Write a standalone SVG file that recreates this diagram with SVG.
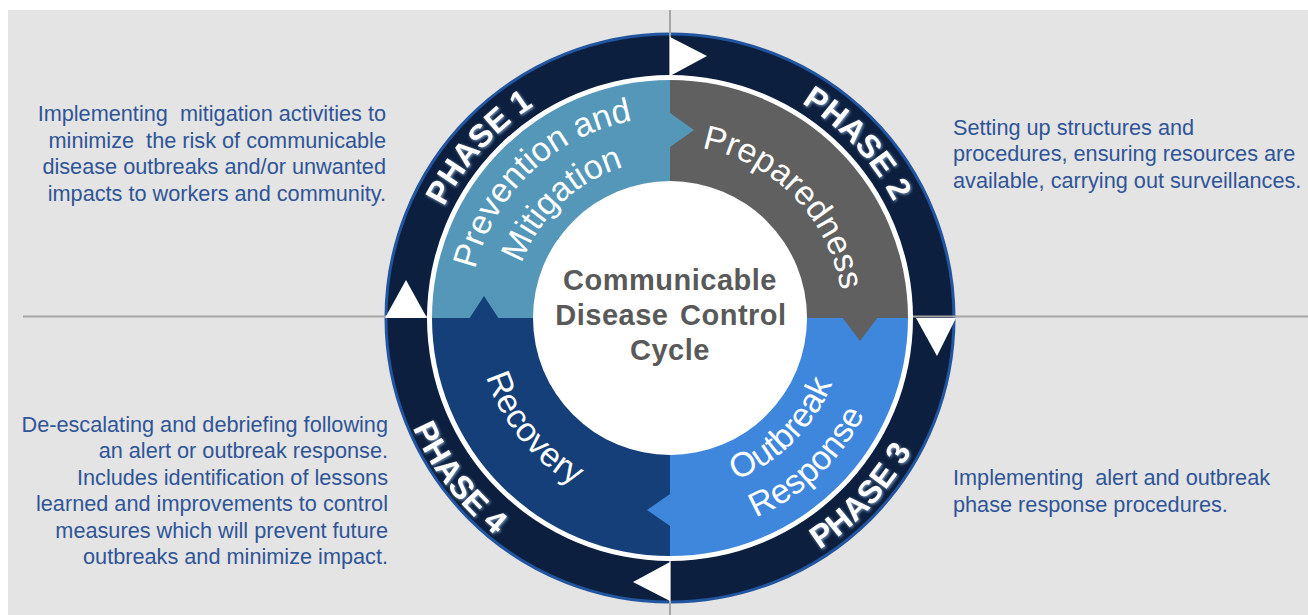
<svg xmlns="http://www.w3.org/2000/svg" xmlns:xlink="http://www.w3.org/1999/xlink" width="1308" height="615" viewBox="0 0 1308 615">
  <style>
    .desc { font-family: "Liberation Sans", Arial, sans-serif; font-size: 21.7px; fill: #2f5597; white-space: pre; }
    .phase { font-family: "Liberation Sans", Arial, sans-serif; font-size: 32px; font-weight: bold; fill: #ffffff; }
    .label { font-family: "Liberation Sans", Arial, sans-serif; font-size: 34px; fill: #ffffff; }
    .title { font-family: "Liberation Sans", Arial, sans-serif; font-size: 29px; font-weight: bold; fill: #595959; text-anchor: middle; white-space: pre; }
    .guide { stroke: #a6a6a6; stroke-width: 2; fill: none; }
  </style>
  <defs>
    <filter id="glow" x="-20%" y="-20%" width="140%" height="140%">
      <feGaussianBlur in="SourceAlpha" stdDeviation="1.6" result="b"/>
      <feOffset in="b" dx="1" dy="1" result="o"/>
      <feFlood flood-color="#8fb0d8" flood-opacity="0.9"/>
      <feComposite in2="o" operator="in" result="s"/>
      <feMerge><feMergeNode in="s"/><feMergeNode in="SourceGraphic"/></feMerge>
    </filter>
    <!-- baselines for the curved ring text -->
    <path id="arcP1" d="M431.0,397.8 A252,252 0 0 1 722.4,71.5"/>
    <path id="arcP2" d="M613.3,72.5 A252,252 0 0 1 911.0,391.7"/>
    <path id="arcP3" d="M608.0,586.5 A276,276 0 0 0 934.1,237.3"/>
    <path id="arcP4" d="M411.6,211.6 A276,276 0 0 0 703.6,591.9"/>
    <path id="arcPrev" d="M475.4,364.3 A199,199 0 0 1 727.1,126.3"/>
    <path id="arcMit" d="M516.4,354.9 A158,158 0 0 1 714.9,166.5"/>
    <path id="arcPrep" d="M627.3,150.4 A173,173 0 0 1 836.5,364.8"/>
    <path id="arcOut" d="M625.0,487.1 A175,175 0 0 0 839.0,272.4"/>
    <path id="arcResp" d="M608.4,526.1 A217,217 0 0 0 881.0,267.4"/>
    <path id="arcRec" d="M489.8,248.8 A193,193 0 0 0 700.2,508.6"/>
  </defs>

  <!-- panel background -->
  <rect x="8" y="10" width="1300" height="605" fill="#e4e4e4"/>

  <!-- outer dark ring -->
  <g id="ring">
    <circle cx="670" cy="318" r="284" fill="#0c1f3e" stroke="#2155a0" stroke-width="3"/>
  </g>

  <!-- quadrant guide lines -->
  <g id="guides">
    <line class="guide" x1="23" y1="316.5" x2="1308" y2="316.5"/>
    <line class="guide" x1="670" y1="10" x2="670" y2="615"/>
  </g>

  <!-- cycle direction arrows on the ring -->
  <g id="connectors" fill="#ffffff">
    <polygon points="670,37 670,76 707,56"/>
    <polygon points="916,318 956,318 937,356"/>
    <polygon points="670,562 670,601 633,582"/>
    <polygon points="385,318 427,318 406,280"/>
  </g>

  <!-- white separator between ring and phases -->
  <circle cx="670" cy="318" r="243" fill="#ffffff"/>

  <g id="phase1-segment">
    <path d="M670,318 L432,318 A238,238 0 0 1 670,80 Z" fill="#5597b9"/>
  </g>
  <g id="phase2-segment">
    <path d="M670,318 L670,80 A238,238 0 0 1 908,318 Z" fill="#606060"/>
  </g>
  <g id="phase3-segment">
    <path d="M670,318 L908,318 A238,238 0 0 1 670,556 Z" fill="#3f87dd"/>
  </g>
  <g id="phase4-segment">
    <path d="M670,318 L670,556 A238,238 0 0 1 432,318 Z" fill="#143f78"/>
  </g>

  <!-- chevron tips pointing to the next phase -->
  <g id="segment-tips">
    <polygon points="670,113 694,130 670,147" fill="#5597b9"/>
    <polygon points="842,317 878,317 860,341" fill="#606060"/>
    <polygon points="670,494 670,526 647,510" fill="#3f87dd"/>
    <polygon points="469,319 499,319 484,296" fill="#143f78"/>
  </g>

  <!-- centre hub -->
  <g id="center">
    <circle cx="670" cy="318" r="137" fill="#ffffff"/>
    <text class="title" x="670" y="290" letter-spacing="0.5">Communicable</text>
    <text class="title" x="671" y="325" letter-spacing="0.5" word-spacing="3">Disease Control</text>
    <text class="title" x="670" y="360" letter-spacing="0.5">Cycle</text>
  </g>

  <g id="phase1">
    <text class="phase" filter="url(#glow)"><textPath xlink:href="#arcP1" startOffset="50%" text-anchor="middle">PHASE 1</textPath></text>
    <text class="label"><textPath xlink:href="#arcPrev" startOffset="50%" text-anchor="middle">Prevention and</textPath></text>
    <text class="label"><textPath xlink:href="#arcMit" startOffset="50%" text-anchor="middle">Mitigation</textPath></text>
  </g>
  <g id="phase2">
    <text class="phase" filter="url(#glow)"><textPath xlink:href="#arcP2" startOffset="50%" text-anchor="middle">PHASE 2</textPath></text>
    <text class="label"><textPath xlink:href="#arcPrep" startOffset="50%" text-anchor="middle">Preparedness</textPath></text>
  </g>
  <g id="phase3">
    <text class="phase" filter="url(#glow)"><textPath xlink:href="#arcP3" startOffset="50%" text-anchor="middle">PHASE 3</textPath></text>
    <text class="label"><textPath xlink:href="#arcOut" startOffset="50%" text-anchor="middle">Outbreak</textPath></text>
    <text class="label"><textPath xlink:href="#arcResp" startOffset="50%" text-anchor="middle">Response</textPath></text>
  </g>
  <g id="phase4">
    <text class="phase" filter="url(#glow)"><textPath xlink:href="#arcP4" startOffset="50%" text-anchor="middle">PHASE 4</textPath></text>
    <text class="label"><textPath xlink:href="#arcRec" startOffset="50%" text-anchor="middle">Recovery</textPath></text>
  </g>

  <!-- phase descriptions -->
  <g id="desc-phase1" text-anchor="end">
    <text class="desc" x="386" y="121">Implementing  mitigation activities to</text>
    <text class="desc" x="386" y="147.5">minimize  the risk of communicable</text>
    <text class="desc" x="386" y="174">disease outbreaks and/or unwanted</text>
    <text class="desc" x="386" y="200.5">impacts to workers and community.</text>
  </g>
  <g id="desc-phase2">
    <text class="desc" x="953" y="134.5">Setting up structures and</text>
    <text class="desc" x="953" y="161">procedures, ensuring resources are</text>
    <text class="desc" x="953" y="187.5">available, carrying out surveillances.</text>
  </g>
  <g id="desc-phase3">
    <text class="desc" x="953" y="485">Implementing  alert and outbreak</text>
    <text class="desc" x="953" y="511.5">phase response procedures.</text>
  </g>
  <g id="desc-phase4" text-anchor="end">
    <text class="desc" x="388" y="431.5">De-escalating and debriefing following</text>
    <text class="desc" x="388" y="458">an alert or outbreak response.</text>
    <text class="desc" x="388" y="484.5">Includes identification of lessons</text>
    <text class="desc" x="388" y="511">learned and improvements to control</text>
    <text class="desc" x="388" y="537.5">measures which will prevent future</text>
    <text class="desc" x="388" y="564">outbreaks and minimize impact.</text>
  </g>
</svg>
